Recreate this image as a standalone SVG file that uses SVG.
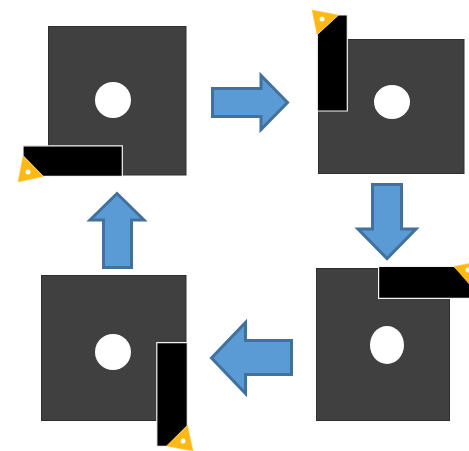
<svg xmlns="http://www.w3.org/2000/svg" width="469" height="451" viewBox="0 0 469 451">
<style>
.plate{fill:#404040;stroke:#2f2f2f;stroke-width:1}
.hole{fill:#fff}
.holder{fill:#000;stroke:#f4f4f4;stroke-width:1.200}
.insert{fill:#ffb915;stroke:#ffc94f;stroke-width:.5}
.pin{fill:#fff}
.arrow{fill:#5b9bd5;stroke:#41719c;stroke-width:3}
</style>
<rect width="469" height="451" fill="#fff"/>
<g id="step-top-left">
<rect class="plate" x="48.500" y="26.500" width="137.500" height="148.500"/>
<ellipse class="hole" cx="113" cy="100" rx="18" ry="18"/>
<path class="holder" d="M23 145.800H122.300V176.300H43L23 156Z"/>
<path class="insert" d="M23 156L43.500 176.500L18 182Z"/>
<circle class="pin" cx="28" cy="172" r="2.500"/>
</g>
<g id="step-top-right">
<rect class="plate" x="318.500" y="39.500" width="145.500" height="134"/>
<ellipse class="hole" cx="392" cy="102" rx="18" ry="17"/>
<path class="holder" d="M317.300 34L338 15H347.300V111H317.300Z"/>
<path class="insert" d="M312 10L338.500 15L317 34.500Z"/>
<circle class="pin" cx="322" cy="19" r="2.500"/>
</g>
<g id="step-bottom-right">
<rect class="plate" x="316.500" y="268.500" width="133" height="152"/>
<ellipse class="hole" cx="387" cy="345" rx="17" ry="19"/>
<path class="holder" d="M378.600 266.300H454L472 283V298.300H378.600Z"/>
<path class="insert" d="M454 266.500L476 262L476 292Z"/>
<circle class="pin" cx="468" cy="270" r="2.500"/>
</g>
<g id="step-bottom-left">
<rect class="plate" x="41.500" y="275.500" width="144.500" height="145"/>
<ellipse class="hole" cx="113" cy="352" rx="18" ry="18"/>
<path class="holder" d="M156.800 342.600H187.300V426L167 446.300H156.800Z"/>
<path class="insert" d="M187.500 425.500L193 451L166.500 446Z"/>
<circle class="pin" cx="183" cy="441" r="2.500"/>
</g>
<g id="connectors">
<path class="arrow" d="M212.500 88.500H261V75.500L287.500 102.500L261 129.500V116.500H212.500Z"/>
<path class="arrow" d="M372.500 184.500H401.500V229H416L387 258.500L358 229H372.500Z"/>
<path class="arrow" d="M291.500 340.500V374.500H245.500V393.500L211.500 358L245.500 322.500V340.500Z"/>
<path class="arrow" d="M103.500 267.500V220H90L117 193.500L144 220H131.500V267.500Z"/>
</g>
</svg>
